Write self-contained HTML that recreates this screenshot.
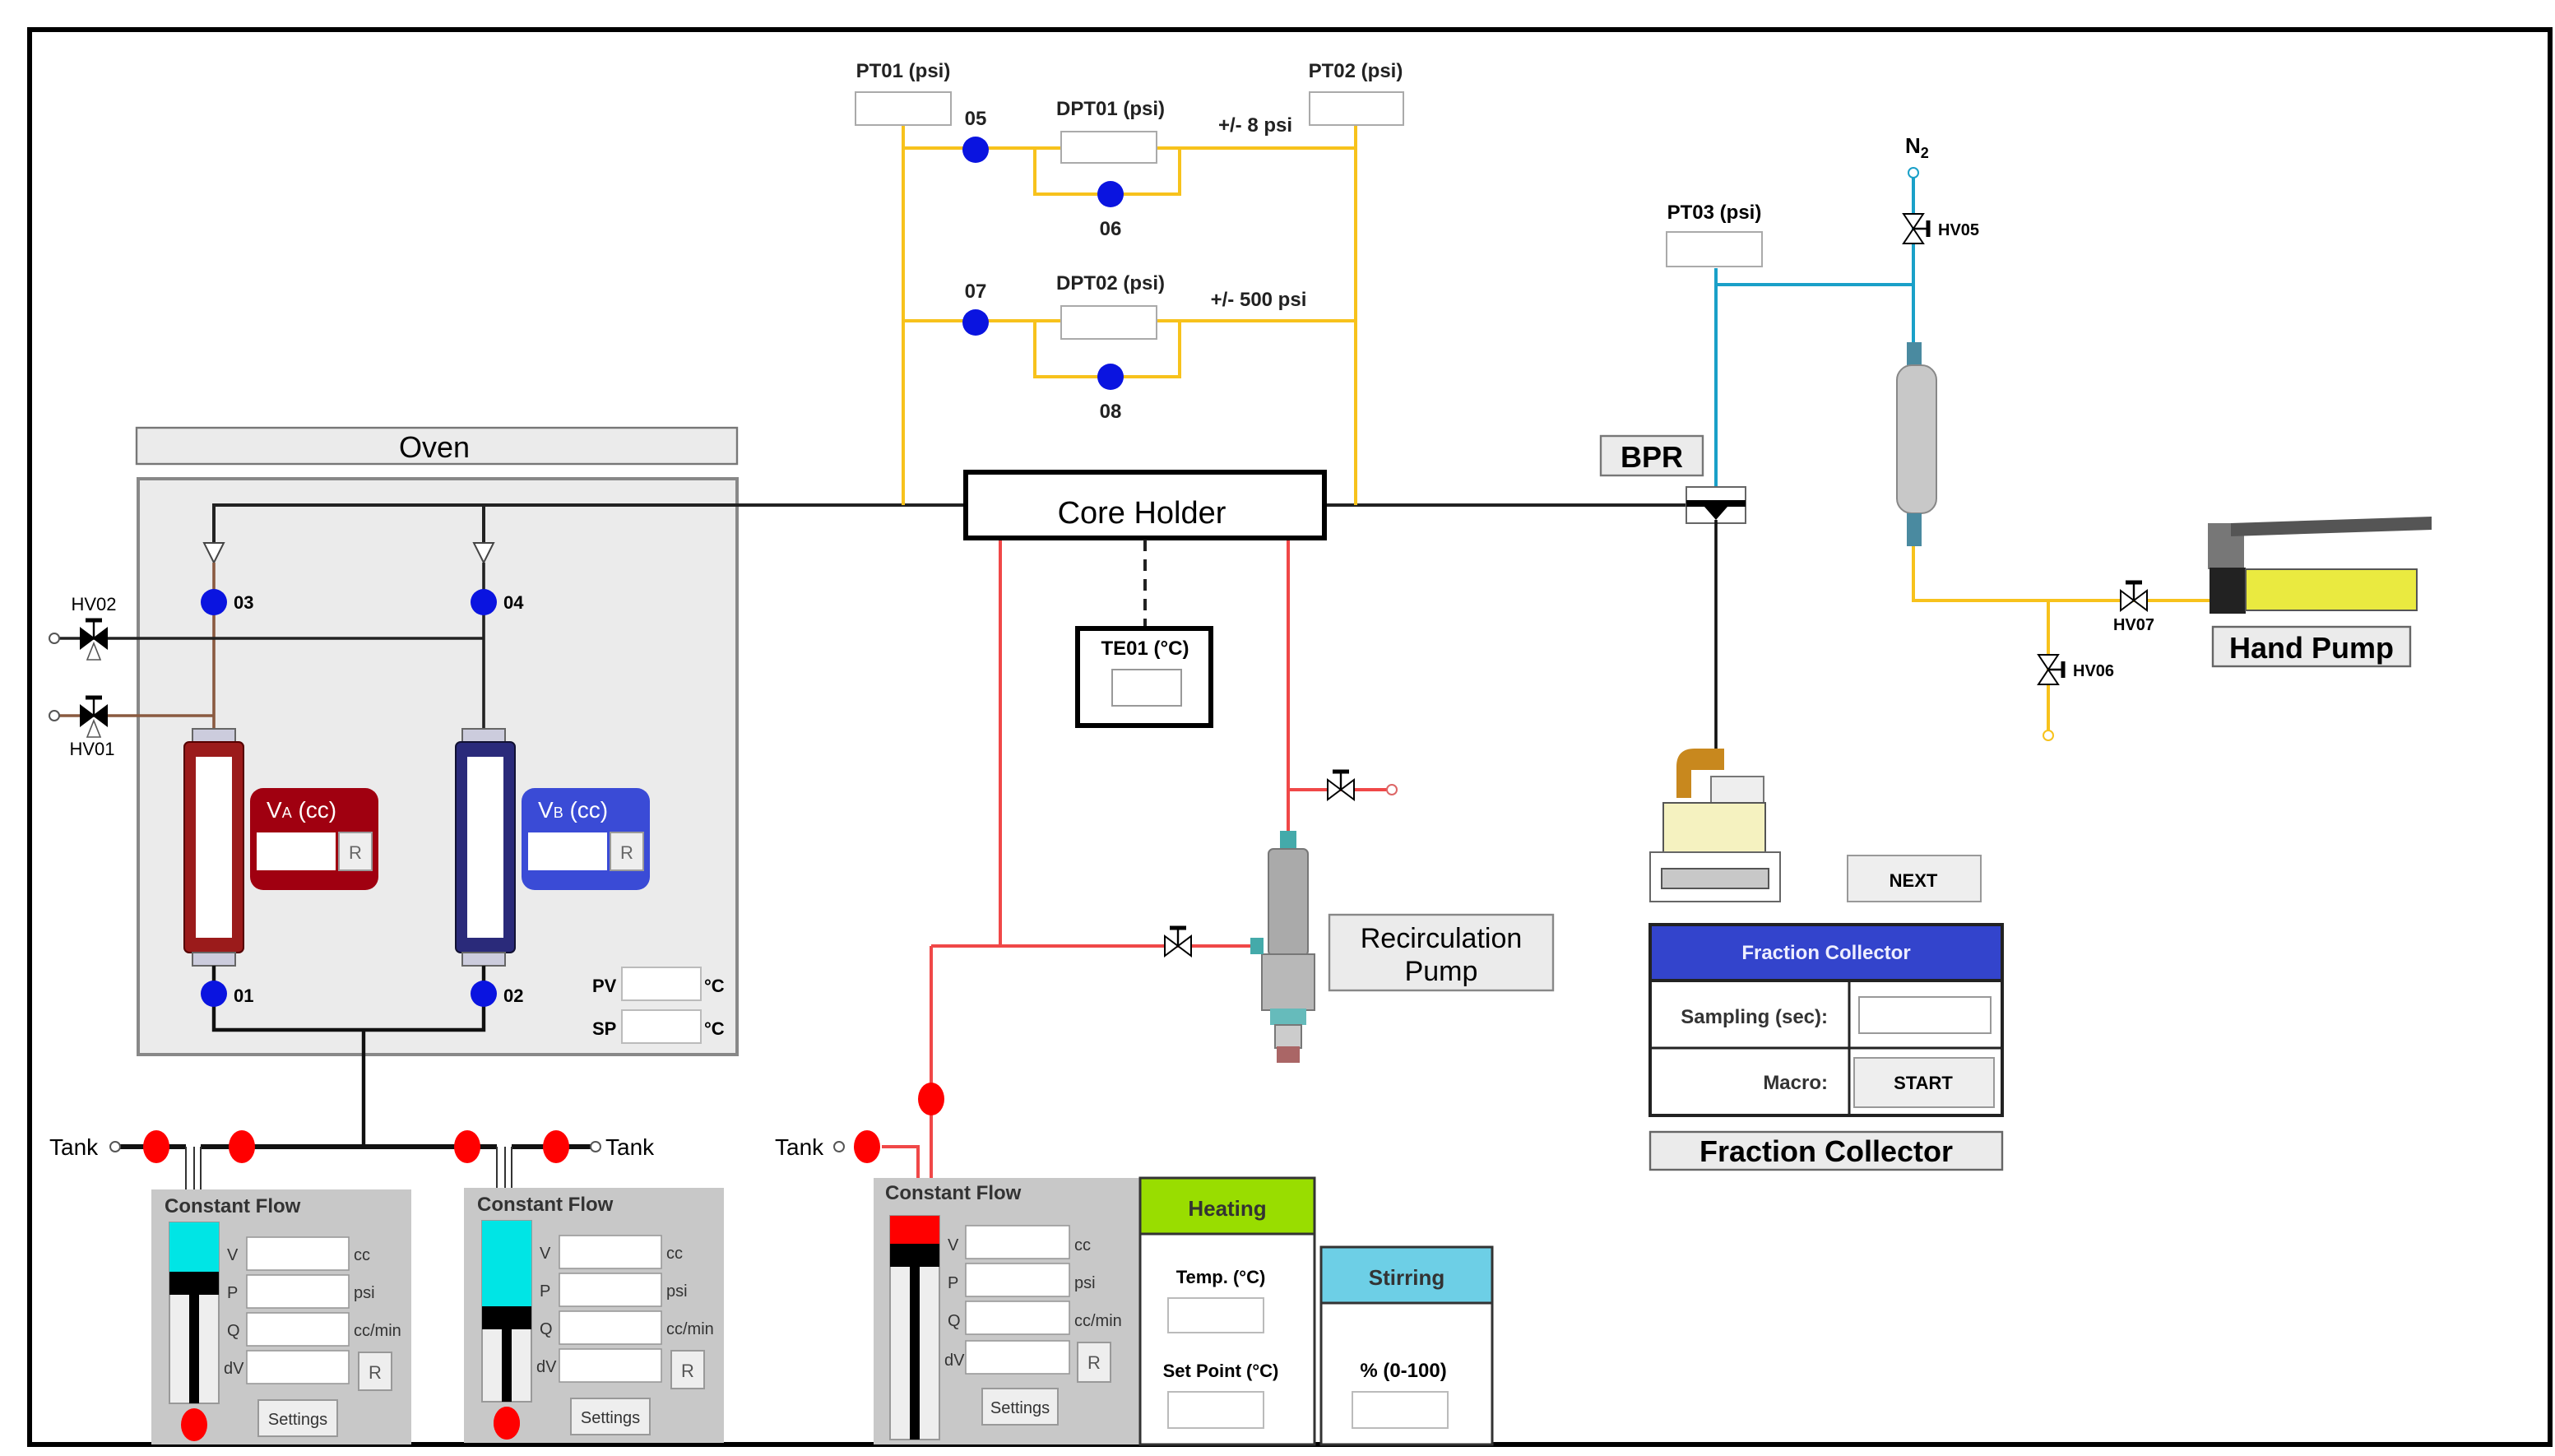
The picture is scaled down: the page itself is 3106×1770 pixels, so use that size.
<!DOCTYPE html>
<html><head><meta charset="utf-8"><style>
html,body{margin:0;padding:0;background:#fff;}
svg{display:block;}
text{font-family:"Liberation Sans",sans-serif;}
</style></head><body>
<svg width="3106" height="1770" viewBox="0 0 1553 885" xmlns="http://www.w3.org/2000/svg">
<defs>
<g id="vh"><polygon points="-8,-6 8,6 8,-6 -8,6" fill="#fff" stroke="#000" stroke-width="1"/><line x1="0" y1="0" x2="0" y2="-11" stroke="#000" stroke-width="1.2"/><line x1="-5" y1="-11" x2="5" y2="-11" stroke="#000" stroke-width="2.5"/></g>
<g id="vhb"><polygon points="-8,-6 8,6 8,-6 -8,6" fill="#000" stroke="#000" stroke-width="1"/><polygon points="-4,13 4,13 0,3" fill="#fff" stroke="#555" stroke-width="0.8"/><line x1="0" y1="0" x2="0" y2="-11" stroke="#000" stroke-width="1.2"/><line x1="-5" y1="-11" x2="5" y2="-11" stroke="#000" stroke-width="2.5"/></g>
<g id="vv"><polygon points="-6,-9 6,9 -6,9 6,-9" fill="#fff" stroke="#000" stroke-width="1"/><line x1="0" y1="0" x2="9" y2="0" stroke="#000" stroke-width="1.2"/><line x1="9" y1="-5" x2="9" y2="5" stroke="#000" stroke-width="2.5"/></g>
</defs>
<rect x="0" y="0" width="1553" height="885" fill="#fff"/>
<rect x="18" y="18" width="1532" height="860" fill="none" stroke="#000" stroke-width="3"/>

<!-- Oven -->
<rect x="83" y="260" width="365" height="22" fill="#ebebeb" stroke="#777" stroke-width="1.2"/>
<text x="264" y="278" font-size="18" text-anchor="middle">Oven</text>
<rect x="84" y="291" width="364" height="350" fill="#ebebeb" stroke="#888" stroke-width="2"/>
<path d="M130 335 V307 H587 M805 307 H1043 M294 307 V335" stroke="#222" stroke-width="2" fill="none"/>
<polygon points="124,330 136,330 130,342" fill="#fff" stroke="#444"/>
<polygon points="288,330 300,330 294,342" fill="#fff" stroke="#444"/>
<path d="M130 342 V445 M33 435 H130" stroke="#8a5a40" stroke-width="1.8" fill="none"/>
<path d="M294 342 V445 M33 388 H294" stroke="#222" stroke-width="1.8" fill="none"/>
<circle cx="33" cy="388" r="3" fill="#fff" stroke="#555"/><circle cx="33" cy="435" r="3" fill="#fff" stroke="#555"/>
<use href="#vhb" x="57" y="388"/><use href="#vhb" x="57" y="435"/>
<text x="57" y="371" font-size="11" text-anchor="middle">HV02</text>
<text x="56" y="459" font-size="11" text-anchor="middle">HV01</text>
<rect x="117" y="443" width="26" height="8" fill="#ccd" stroke="#666"/>
<rect x="112" y="451" width="36" height="128" rx="3" fill="#9b1b1b" stroke="#500"/>
<rect x="119" y="460" width="22" height="110" fill="#fff"/>
<rect x="117" y="579" width="26" height="8" fill="#ccd" stroke="#666"/>
<rect x="281" y="443" width="26" height="8" fill="#ccd" stroke="#666"/>
<rect x="277" y="451" width="36" height="128" rx="3" fill="#2a2a7a" stroke="#113"/>
<rect x="284" y="460" width="22" height="110" fill="#fff"/>
<rect x="281" y="579" width="26" height="8" fill="#ccd" stroke="#666"/>
<path d="M130 587 V626 H294 V587 M221 626 V697" stroke="#111" stroke-width="2.2" fill="none"/>
<g fill="#0a14e0"><circle cx="130" cy="366" r="8"/><circle cx="294" cy="366" r="8"/><circle cx="130" cy="604" r="8"/><circle cx="294" cy="604" r="8"/></g>
<g font-size="11" font-weight="bold"><text x="142" y="370">03</text><text x="306" y="370">04</text><text x="142" y="609">01</text><text x="306" y="609">02</text></g>
<rect x="152" y="479" width="78" height="62" rx="8" fill="#a00010"/>
<text x="162" y="497" font-size="14" fill="#fff">V<tspan font-size="9">A</tspan> (cc)</text>
<rect x="156" y="506" width="48" height="23" fill="#fff"/><rect x="206" y="506" width="20" height="23" fill="#eee" stroke="#999"/>
<text x="216" y="522" font-size="11" text-anchor="middle" fill="#666">R</text>
<rect x="317" y="479" width="78" height="62" rx="8" fill="#3a4bd6"/>
<text x="327" y="497" font-size="14" fill="#fff">V<tspan font-size="9">B</tspan> (cc)</text>
<rect x="321" y="506" width="48" height="23" fill="#fff"/><rect x="371" y="506" width="20" height="23" fill="#eee" stroke="#999"/>
<text x="381" y="522" font-size="11" text-anchor="middle" fill="#666">R</text>
<g font-size="11" font-weight="bold"><text x="360" y="603">PV</text><text x="360" y="629">SP</text><text x="428" y="603">°C</text><text x="428" y="629">°C</text></g>
<rect x="378" y="588" width="48" height="20" fill="#fff" stroke="#bbb"/><rect x="378" y="614" width="48" height="20" fill="#fff" stroke="#bbb"/>

<path d="M70 697 H113 M122 697 H302 M311 697 H360" stroke="#111" stroke-width="3" fill="none"/>
<path d="M113 697 V723 M118 697 V723 M122 697 V723 M302 697 V723 M307 697 V723 M311 697 V723" stroke="#333" stroke-width="1" fill="none"/>
<g fill="#f00"><ellipse cx="95" cy="697" rx="8" ry="10"/><ellipse cx="147" cy="697" rx="8" ry="10"/><ellipse cx="284" cy="697" rx="8" ry="10"/><ellipse cx="338" cy="697" rx="8" ry="10"/></g>
<circle cx="70" cy="697" r="3" fill="#fff" stroke="#555"/><circle cx="362" cy="697" r="3" fill="#fff" stroke="#555"/>
<text x="30" y="702" font-size="14">Tank</text><text x="368" y="702" font-size="14">Tank</text>

<g id="cf1">
<rect x="92" y="723" width="158" height="155" fill="#c8c8c8"/>
<text x="100" y="737" font-size="12" font-weight="bold" fill="#333">Constant Flow</text>
<rect x="103" y="743" width="30" height="110" fill="#eee" stroke="#999"/>
<rect x="103" y="743" width="30" height="30" fill="#00e5e5"/>
<rect x="103" y="773" width="30" height="14" fill="#000"/>
<rect x="115" y="787" width="6" height="66" fill="#000"/>
<g fill="#fff" stroke="#999" stroke-width="0.8"><rect x="150" y="752" width="62" height="20"/><rect x="150" y="775" width="62" height="20"/><rect x="150" y="798" width="62" height="20"/><rect x="150" y="821" width="62" height="20"/></g>
<g font-size="10" fill="#333"><text x="138" y="766">V</text><text x="138" y="789">P</text><text x="138" y="812">Q</text><text x="136" y="835">dV</text><text x="215" y="766">cc</text><text x="215" y="789">psi</text><text x="215" y="812">cc/min</text></g>
<rect x="218" y="822" width="20" height="23" fill="#eee" stroke="#999"/><text x="228" y="838" font-size="11" text-anchor="middle" fill="#555">R</text>
<rect x="157" y="851" width="48" height="22" fill="#eee" stroke="#999"/><text x="181" y="866" font-size="10" text-anchor="middle" fill="#333">Settings</text>
<ellipse cx="118" cy="866" rx="8" ry="10" fill="#f00"/>
</g>
<use href="#cf1" x="190" y="-1"/>
<rect x="293" y="742" width="30" height="110" fill="#eee" stroke="#999"/>
<rect x="293" y="742" width="30" height="52" fill="#00e5e5"/>
<rect x="293" y="794" width="30" height="14" fill="#000"/>
<rect x="305" y="808" width="6" height="44" fill="#000"/>
<ellipse cx="308" cy="865" rx="8" ry="10" fill="#f00"/>

<rect x="531" y="716" width="162" height="162" fill="#c8c8c8"/>
<text x="538" y="729" font-size="12" font-weight="bold" fill="#333">Constant Flow</text>
<rect x="541" y="739" width="30" height="136" fill="#eee" stroke="#999"/>
<rect x="541" y="739" width="30" height="17" fill="#f00"/>
<rect x="541" y="756" width="30" height="14" fill="#000"/>
<rect x="553" y="770" width="6" height="105" fill="#000"/>
<g fill="#fff" stroke="#999" stroke-width="0.8"><rect x="587" y="745" width="63" height="20"/><rect x="587" y="768" width="63" height="20"/><rect x="587" y="791" width="63" height="20"/><rect x="587" y="815" width="63" height="20"/></g>
<g font-size="10" fill="#333"><text x="576" y="760">V</text><text x="576" y="783">P</text><text x="576" y="806">Q</text><text x="574" y="830">dV</text><text x="653" y="760">cc</text><text x="653" y="783">psi</text><text x="653" y="806">cc/min</text></g>
<rect x="655" y="816" width="20" height="24" fill="#eee" stroke="#999"/><text x="665" y="832" font-size="11" text-anchor="middle" fill="#555">R</text>
<rect x="597" y="844" width="46" height="22" fill="#eee" stroke="#999"/><text x="620" y="859" font-size="10" text-anchor="middle" fill="#333">Settings</text>
<rect x="693" y="716" width="106" height="162" fill="#fff" stroke="#333" stroke-width="1.5"/>
<rect x="693" y="716" width="106" height="34" fill="#99dd00" stroke="#333" stroke-width="1.5"/>
<text x="746" y="739" font-size="13" font-weight="bold" text-anchor="middle" fill="#333">Heating</text>
<text x="742" y="780" font-size="11" font-weight="bold" text-anchor="middle">Temp. (°C)</text>
<rect x="710" y="789" width="58" height="21" fill="#fff" stroke="#bbb"/>
<text x="742" y="837" font-size="11" font-weight="bold" text-anchor="middle">Set Point (°C)</text>
<rect x="710" y="846" width="58" height="22" fill="#fff" stroke="#bbb"/>
<rect x="803" y="758" width="104" height="120" fill="#fff" stroke="#333" stroke-width="1.5"/>
<rect x="803" y="758" width="104" height="34" fill="#6dcfe6" stroke="#333" stroke-width="1.5"/>
<text x="855" y="781" font-size="13" font-weight="bold" text-anchor="middle" fill="#333">Stirring</text>
<text x="853" y="837" font-size="12" font-weight="bold" text-anchor="middle">% (0-100)</text>
<rect x="822" y="846" width="58" height="22" fill="#fff" stroke="#bbb"/>

<path d="M608 327 V575 M566 575 H760 M566 575 V716 M783 327 V510 M783 480 H845 M536 697 H558 V716" stroke="#f04848" stroke-width="2" fill="none"/>
<ellipse cx="566" cy="668" rx="8" ry="10" fill="#f00"/>
<ellipse cx="527" cy="697" rx="8" ry="10" fill="#f00"/>
<circle cx="510" cy="697" r="3" fill="#fff" stroke="#555"/>
<text x="471" y="702" font-size="14">Tank</text>
<circle cx="846" cy="480" r="3" fill="#fff" stroke="#d66"/>
<use href="#vh" x="815" y="480"/><use href="#vh" x="716" y="575"/>
<rect x="778" y="505" width="10" height="12" fill="#4aa"/>
<rect x="771" y="516" width="24" height="65" rx="3" fill="#aaa" stroke="#777"/>
<rect x="767" y="580" width="32" height="34" fill="#b8b8b8" stroke="#777"/>
<rect x="760" y="570" width="8" height="10" fill="#4aa"/>
<rect x="772" y="613" width="22" height="10" fill="#6bb"/>
<rect x="775" y="623" width="16" height="14" fill="#ccc" stroke="#777"/>
<rect x="776" y="636" width="14" height="10" fill="#a66"/>
<rect x="808" y="556" width="136" height="46" fill="#ebebeb" stroke="#888" stroke-width="1.2"/>
<text x="876" y="576" font-size="17" text-anchor="middle">Recirculation</text>
<text x="876" y="596" font-size="17" text-anchor="middle">Pump</text>

<rect x="587" y="287" width="218" height="40" fill="#fff" stroke="#000" stroke-width="3"/>
<text x="694" y="318" font-size="19" text-anchor="middle">Core Holder</text>
<line x1="696" y1="328" x2="696" y2="382" stroke="#222" stroke-width="2" stroke-dasharray="7,5"/>
<rect x="655" y="382" width="81" height="59" fill="#fff" stroke="#000" stroke-width="3"/>
<text x="696" y="398" font-size="12" font-weight="bold" text-anchor="middle">TE01 (°C)</text>
<rect x="676" y="407" width="42" height="22" fill="#fff" stroke="#999"/>

<path d="M549 76 V307 M824 76 V307 M549 90 H645 M703 90 H824 M629 90 V118 H717 V90 M549 195 H645 M703 195 H824 M629 195 V229 H717 V195" stroke="#f7c21c" stroke-width="2" fill="none"/>
<rect x="520" y="56" width="58" height="20" fill="#fff" stroke="#aaa"/>
<rect x="796" y="56" width="57" height="20" fill="#fff" stroke="#aaa"/>
<rect x="645" y="80" width="58" height="19" fill="#fff" stroke="#aaa"/>
<rect x="645" y="186" width="58" height="20" fill="#fff" stroke="#aaa"/>
<g fill="#0a14e0"><circle cx="593" cy="91" r="8"/><circle cx="675" cy="118" r="8"/><circle cx="593" cy="196" r="8"/><circle cx="675" cy="229" r="8"/></g>
<g font-size="12" font-weight="bold" text-anchor="middle" fill="#222">
<text x="549" y="47">PT01 (psi)</text><text x="824" y="47">PT02 (psi)</text>
<text x="675" y="70">DPT01 (psi)</text><text x="675" y="176">DPT02 (psi)</text>
<text x="763" y="80">+/- 8 psi</text><text x="765" y="186">+/- 500 psi</text>
<text x="593" y="76">05</text><text x="675" y="143">06</text><text x="593" y="181">07</text><text x="675" y="254">08</text>
</g>

<path d="M1043 163 V296 M1043 173 H1163 M1163 105 V215" stroke="#1aa0c8" stroke-width="2" fill="none"/>
<rect x="1013" y="141" width="58" height="21" fill="#fff" stroke="#aaa"/>
<text x="1042" y="133" font-size="12" font-weight="bold" text-anchor="middle">PT03 (psi)</text>
<text x="1158" y="93" font-size="13" font-weight="bold">N<tspan font-size="9" dy="3">2</tspan></text>
<circle cx="1163" cy="105" r="3" fill="#fff" stroke="#1aa0c8"/>
<use href="#vv" x="1163" y="139"/>
<text x="1178" y="143" font-size="10" font-weight="bold">HV05</text>
<rect x="973" y="265" width="62" height="24" fill="#ebebeb" stroke="#777" stroke-width="1.2"/>
<text x="1004" y="284" font-size="18" font-weight="bold" text-anchor="middle">BPR</text>
<rect x="1025" y="296" width="36" height="22" fill="#fff" stroke="#666"/>
<rect x="1025" y="304" width="36" height="4" fill="#000"/>
<polygon points="1036,308 1050,308 1043,316" fill="#000"/>
<line x1="1043" y1="316" x2="1043" y2="455" stroke="#111" stroke-width="1.8"/>
<rect x="1159" y="208" width="9" height="14" fill="#4a8aa0"/>
<rect x="1153" y="222" width="24" height="90" rx="9" fill="#c8c8c8" stroke="#888"/>
<rect x="1159" y="312" width="9" height="20" fill="#4a8aa0"/>
<path d="M1163 332 V365 H1345 M1245 365 V447" stroke="#f7c21c" stroke-width="2" fill="none"/>
<use href="#vh" x="1297" y="365"/>
<text x="1297" y="383" font-size="10" font-weight="bold" text-anchor="middle">HV07</text>
<use href="#vv" x="1245" y="407"/>
<text x="1260" y="411" font-size="10" font-weight="bold">HV06</text>
<circle cx="1245" cy="447" r="3" fill="#fff" stroke="#f7c21c"/>
<rect x="1342" y="318" width="22" height="28" fill="#777"/>
<polygon points="1356,318 1478,314 1478,322 1356,326" fill="#555"/>
<rect x="1343" y="345" width="22" height="28" fill="#222"/>
<rect x="1365" y="346" width="104" height="25" fill="#eaea40" stroke="#555"/>
<rect x="1345" y="381" width="120" height="24" fill="#ebebeb" stroke="#666" stroke-width="1.2"/>
<text x="1405" y="400" font-size="18" font-weight="bold" text-anchor="middle">Hand Pump</text>

<path d="M1019 485 V466 Q1019 455 1030 455 H1048 V468 H1028 V485 Z" fill="#c8881e"/>
<rect x="1040" y="472" width="32" height="16" fill="#eee" stroke="#777"/>
<rect x="1011" y="488" width="62" height="30" fill="#f5f2c0" stroke="#555"/>
<rect x="1003" y="518" width="79" height="30" fill="#fff" stroke="#666"/>
<rect x="1010" y="528" width="65" height="12" fill="#c8c8c8" stroke="#555"/>
<rect x="1123" y="520" width="81" height="28" fill="#eee" stroke="#999"/>
<text x="1163" y="539" font-size="11" font-weight="bold" text-anchor="middle">NEXT</text>
<rect x="1003" y="562" width="214" height="116" fill="#fff" stroke="#222" stroke-width="2"/>
<rect x="1003" y="562" width="214" height="34" fill="#3344cc" stroke="#222" stroke-width="2"/>
<text x="1110" y="583" font-size="12" font-weight="bold" fill="#eef" text-anchor="middle">Fraction Collector</text>
<path d="M1003 637 H1217 M1124 596 V678" stroke="#222" stroke-width="1.5"/>
<text x="1111" y="622" font-size="12" font-weight="bold" text-anchor="end" fill="#333">Sampling (sec):</text>
<rect x="1130" y="606" width="80" height="22" fill="#fff" stroke="#999"/>
<text x="1111" y="662" font-size="12" font-weight="bold" text-anchor="end" fill="#333">Macro:</text>
<rect x="1127" y="643" width="85" height="30" fill="#eee" stroke="#999"/>
<text x="1169" y="662" font-size="11" font-weight="bold" text-anchor="middle">START</text>
<rect x="1003" y="688" width="214" height="23" fill="#ebebeb" stroke="#666" stroke-width="1.2"/>
<text x="1110" y="706" font-size="18" font-weight="bold" text-anchor="middle">Fraction Collector</text>
</svg>
</body></html>
